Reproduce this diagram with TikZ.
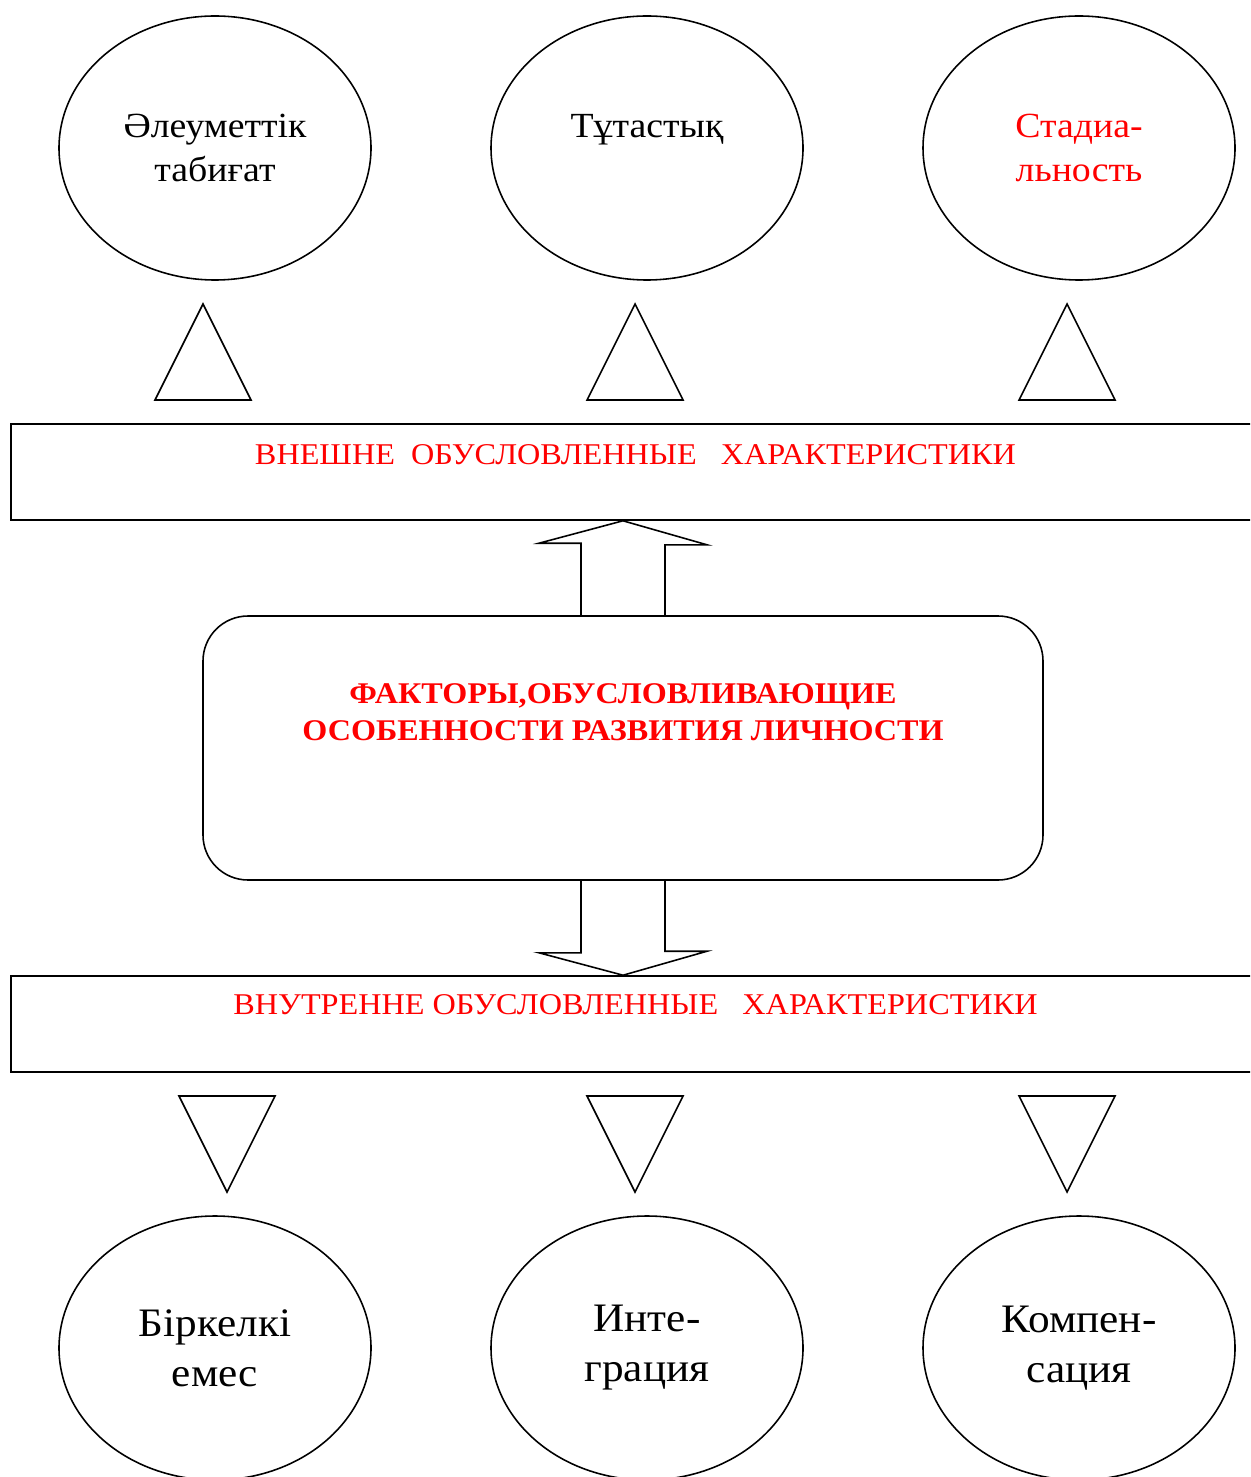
\documentclass[tikz,border=0pt]{standalone}
\usepackage{fontspec}
\setmainfont[FakeStretch=1.07]{Liberation Serif}
\usepackage{tikz}
\usetikzlibrary{shapes.geometric, positioning}
\tikzset{
  trait/.style={draw, ellipse, line width=0.9pt, minimum width=6.24cm, minimum height=5.28cm,
    inner sep=0pt, align=center},
  uptxt/.style={font=\fontsize{20.1}{25}\selectfont},
  lowtxt/.style={font=\fontsize{23}{28.5}\selectfont},
  band/.style={draw, line width=0.9pt, minimum width=24.98cm, minimum height=1.92cm, inner sep=0pt},
  bandtxt/.style={font=\fontsize{17.15}{22}\selectfont, text=red, inner sep=0pt},
  core/.style={draw, rounded corners=0.9cm, line width=0.9pt, minimum width=16.8cm,
    minimum height=5.28cm, inner sep=0pt},
  coretxt/.style={font=\bfseries\fontsize{17.1}{21.6}\selectfont, text=red, align=center,
    inner sep=0pt},
  tri/.style={draw, line width=0.9pt, line join=miter},
  fatarrow/.style={draw, line width=0.9pt, line join=miter},
}

\begin{document}
\begin{tikzpicture}
  \clip (0,0) rectangle (25,-29.54);
  % top row
  \node[trait, uptxt] (social) at (4.3,-2.96) {Әлеуметтік\\табиғат};
  \node[trait, uptxt] (whole) at (12.94,-2.96) {Тұтастық\\ \mbox{}};
  \node[trait, uptxt, text=red] (stage) at (21.58,-2.96) {Стадиа-\\льность};
  \foreach \x in {4.06,12.7,21.34}
    {\draw[tri] (\x,-6.08) -- ++(-0.96,-1.92) -- ++(1.92,0) -- cycle;}
  % bands and core
  \node[band] (outer) at (12.71,-9.44) {};
  \node[bandtxt] (outerlab) at ([yshift=-0.62cm]outer.north) {ВНЕШНЕ\ \ ОБУСЛОВЛЕННЫЕ\ \ \ ХАРАКТЕРИСТИКИ};
  \node[core] (factors) at (12.46,-14.96) {};
  \node[coretxt] (factorslab) at ([yshift=-1.94cm]factors.north)
    {ФАКТОРЫ,ОБУСЛОВЛИВАЮЩИЕ\\ОСОБЕННОСТИ РАЗВИТИЯ ЛИЧНОСТИ};
  \node[band] (inner) at (12.71,-20.48) {};
  \node[bandtxt] (innerlab) at ([yshift=-0.58cm]inner.north) {ВНУТРЕННЕ ОБУСЛОВЛЕННЫЕ\ \ \ ХАРАКТЕРИСТИКИ};
  \draw[fatarrow] ([xshift=-0.84cm]factors.north) -- ++(0,1.44) -- ++(-0.84,0) -- ([xshift=-0.25cm]outer.south)
    -- ++(1.68,-0.48) -- ++(-0.84,0) -- ([xshift=0.84cm]factors.north);
  \draw[fatarrow] ([xshift=-0.84cm]factors.south) -- ++(0,-1.44) -- ++(-0.84,0) -- ([xshift=-0.25cm]inner.north)
    -- ++(1.68,0.48) -- ++(-0.84,0) -- ([xshift=0.84cm]factors.south);
  % bottom row
  \foreach \x in {4.54,12.7,21.34}
    {\draw[tri] (\x,-23.84) -- ++(-0.96,1.92) -- ++(1.92,0) -- cycle;}
  \node[trait, lowtxt] (uneven) at (4.3,-26.96) {Біркелкі\\емес};
  \node[trait, lowtxt] (integr) at (12.94,-26.96) {Инте-\\грация};
  \node[trait, lowtxt] (compens) at (21.58,-26.96) {Компен-\\сация};
\end{tikzpicture}
\end{document}
